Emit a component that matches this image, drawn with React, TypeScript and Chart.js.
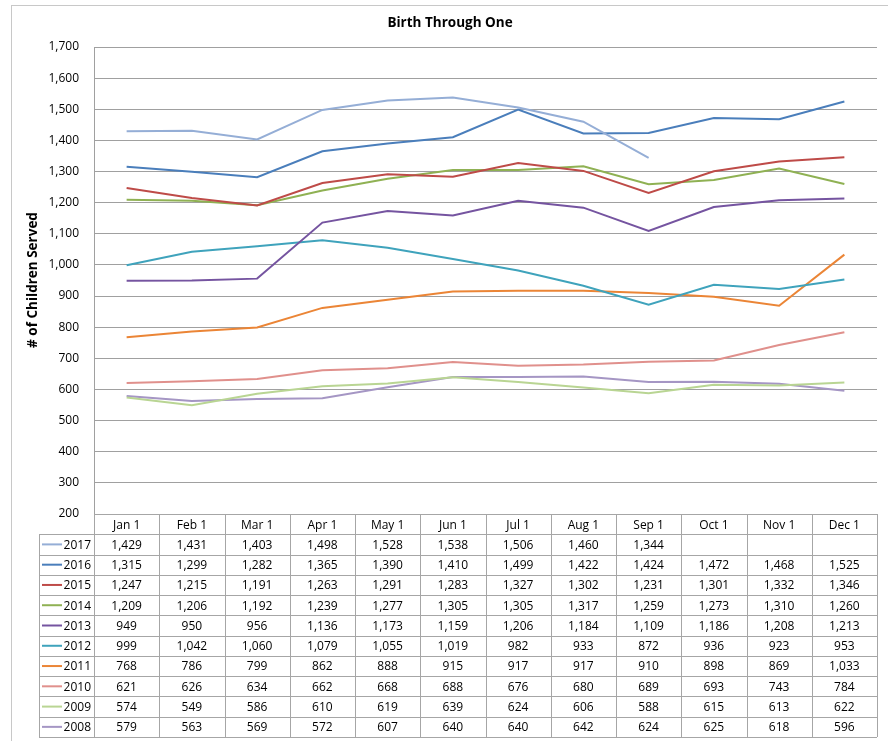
import React, { useEffect, useRef } from "react";
import { Chart, registerables } from "chart.js";
Chart.register(...registerables);

const chartTitle = "Birth Through One";
const yAxisTitle = "# of Children Served";
const months = ["Jan 1", "Feb 1", "Mar 1", "Apr 1", "May 1", "Jun 1", "Jul 1", "Aug 1", "Sep 1", "Oct 1", "Nov 1", "Dec 1"];
const years = ["2017", "2016", "2015", "2014", "2013", "2012", "2011", "2010", "2009", "2008"];

const v2017 = [1429, 1431, 1403, 1498, 1528, 1538, 1506, 1460, 1344, null, null, null];
const v2016 = [1315, 1299, 1282, 1365, 1390, 1410, 1499, 1422, 1424, 1472, 1468, 1525];
const v2015 = [1247, 1215, 1191, 1263, 1291, 1283, 1327, 1302, 1231, 1301, 1332, 1346];
const v2014 = [1209, 1206, 1192, 1239, 1277, 1305, 1305, 1317, 1259, 1273, 1310, 1260];
const v2013 = [949, 950, 956, 1136, 1173, 1159, 1206, 1184, 1109, 1186, 1208, 1213];
const v2012 = [999, 1042, 1060, 1079, 1055, 1019, 982, 933, 872, 936, 923, 953];
const v2011 = [768, 786, 799, 862, 888, 915, 917, 917, 910, 898, 869, 1033];
const v2010 = [621, 626, 634, 662, 668, 688, 676, 680, 689, 693, 743, 784];
const v2009 = [574, 549, 586, 610, 619, 639, 624, 606, 588, 615, 613, 622];
const v2008 = [579, 563, 569, 572, 607, 640, 640, 642, 624, 625, 618, 596];

const seriesValues = [v2017, v2016, v2015, v2014, v2013, v2012, v2011, v2010, v2009, v2008];
const seriesColors = ["#95AED6", "#4A7EBB", "#BE4B48", "#8FB153", "#7554A0", "#3FA3BC", "#EB8536", "#E0908C", "#B9D593", "#A596C4"];

const Y_MIN = 200;
const Y_MAX = 1700;
const Y_STEP = 100;

const FONT = "'Open Sans', 'Liberation Sans', sans-serif";
const fmt = (n: number) => n.toLocaleString("en-US");

const tablePlugin = {
  id: "tablePlugin",
  afterDraw(chart: any) {
    const ctx = chart.ctx as CanvasRenderingContext2D;
    const area = chart.chartArea;
    const xs = chart.scales.x;
    const n = months.length;
    const step = (area.right - area.left) / n;
    const top = area.bottom;
    const tableBottom = 737;
    const rowH = (tableBottom - top) / (years.length + 1);
    const legLeft = 39;
    const lineColor = "#a6a6a6";

    ctx.save();
    // outer border
    ctx.strokeStyle = "#c8c8c8";
    ctx.lineWidth = 1;
    ctx.strokeRect(11.5, 5.5, 900, 800);

    // title
    ctx.fillStyle = "#000";
    ctx.font = `bold 13.5px ${FONT}`;
    ctx.textAlign = "center";
    ctx.textBaseline = "middle";
    ctx.fillText(chartTitle, 450, 23);

    // y title
    ctx.save();
    ctx.translate(33, 280);
    ctx.rotate(-Math.PI / 2);
    ctx.font = `bold 13.5px ${FONT}`;
    ctx.fillText(yAxisTitle, 0, 0);
    ctx.restore();

    // table grid
    ctx.strokeStyle = lineColor;
    ctx.lineWidth = 1;
    ctx.beginPath();
    ctx.moveTo(area.left, Math.round(top) + 0.5);
    ctx.lineTo(area.right, Math.round(top) + 0.5);
    for (let r = 1; r <= years.length + 1; r++) {
      const y = Math.round(top + r * rowH) + 0.5;
      ctx.moveTo(legLeft, y);
      ctx.lineTo(area.right, y);
    }
    for (let c = 0; c <= n; c++) {
      const x = Math.round(area.left + c * step) + 0.5;
      ctx.moveTo(x, top);
      ctx.lineTo(x, tableBottom);
    }
    ctx.moveTo(legLeft + 0.5, Math.round(top + rowH));
    ctx.lineTo(legLeft + 0.5, tableBottom);
    ctx.stroke();

    // header labels
    ctx.fillStyle = "#000";
    ctx.font = `12px ${FONT}`;
    ctx.textAlign = "center";
    ctx.textBaseline = "middle";
    months.forEach((m, i) => {
      ctx.fillText(m, xs.getPixelForValue(i), top + rowH / 2 + 1);
    });

    // rows
    years.forEach((yr, r) => {
      const cy = top + (r + 1) * rowH + rowH / 2 + 1;
      ctx.strokeStyle = seriesColors[r];
      ctx.lineWidth = 2;
      ctx.beginPath();
      ctx.moveTo(legLeft + 3, cy - 1);
      ctx.lineTo(legLeft + 23, cy - 1);
      ctx.stroke();
      ctx.textAlign = "right";
      ctx.fillStyle = "#000";
      ctx.fillText(yr, area.left - 3, cy);
      ctx.textAlign = "center";
      seriesValues[r].forEach((v, i) => {
        if (v !== null) ctx.fillText(fmt(v), xs.getPixelForValue(i), cy);
      });
    });
    ctx.restore();
  },
};

export default function App() {
  const ref = useRef<HTMLCanvasElement | null>(null);
  useEffect(() => {
    if (!ref.current) return;
    const chart = new Chart(ref.current, {
      type: "line",
      data: {
        labels: months,
        datasets: years.map((yr, i) => ({
          label: yr,
          data: seriesValues[i],
          borderColor: seriesColors[i],
          backgroundColor: seriesColors[i],
          borderWidth: 2,
          pointRadius: 0,
          tension: 0,
          spanGaps: false,
        })),
      },
      options: {
        responsive: false,
        animation: false,
        layout: { padding: { top: 47, right: 11, bottom: 227, left: 0 } },
        plugins: {
          legend: { display: false },
          title: { display: false },
          tooltip: { enabled: false },
        },
        scales: {
          x: {
            display: false,
            offset: true,
          },
          y: {
            min: Y_MIN,
            max: Y_MAX,
            afterFit: (s: any) => {
              s.width = 94;
            },
            ticks: {
              stepSize: Y_STEP,
              padding: 15,
              color: "#000",
              font: { family: FONT, size: 12 },
              callback: (v: any) => fmt(Number(v)),
            },
            grid: { color: "#a0a0a0", drawTicks: false, lineWidth: 1 },
            border: { display: true, color: "#a0a0a0" },
          },
        },
      },
      plugins: [tablePlugin],
    });
    return () => chart.destroy();
  }, []);
  return (
    <canvas
      ref={ref}
      width={888}
      height={741}
      style={{ position: "absolute", left: 0, top: 0, width: 888, height: 741 }}
    />
  );
}
